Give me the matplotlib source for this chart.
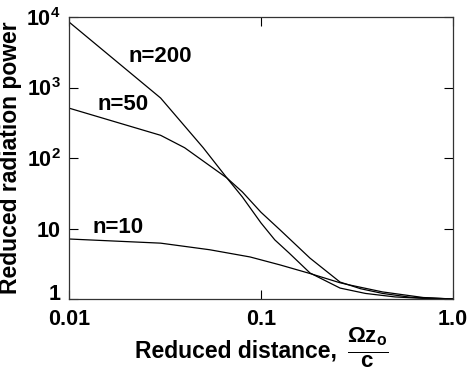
import matplotlib
matplotlib.use('Agg')
import matplotlib.pyplot as plt
from matplotlib.transforms import ScaledTranslation

plt.rcParams['font.family'] = 'Liberation Sans'
plt.rcParams['font.weight'] = 'bold'
plt.rcParams['mathtext.fontset'] = 'custom'
plt.rcParams['mathtext.rm'] = 'Liberation Sans:bold'
plt.rcParams['mathtext.it'] = 'Liberation Sans:bold'
plt.rcParams['mathtext.bf'] = 'Liberation Sans:bold'

# curves
x200 = [0.01, 0.03, 0.05, 0.0665, 0.08, 0.1, 0.118, 0.14, 0.18, 0.258, 0.35, 0.5, 0.7, 1.0]
y200 = [8500, 710, 140, 52, 28, 12, 6.9, 4.5, 2.34, 1.43, 1.2, 1.07, 1.02, 1.0]

x50 = [0.01, 0.03, 0.04, 0.054, 0.0665, 0.08, 0.1, 0.126, 0.18, 0.258, 0.33, 0.43, 0.6, 1.0]
y50 = [510, 210, 140, 78, 52, 33, 17, 9.5, 3.8, 1.74, 1.4, 1.2, 1.06, 1.0]

x10 = [0.01, 0.03, 0.054, 0.0877, 0.126, 0.18, 0.258, 0.29, 0.43, 0.7, 1.0]
y10 = [7.1, 6.2, 5.0, 3.95, 3.04, 2.3, 1.7, 1.58, 1.26, 1.05, 1.0]

xticks = [0.01, 0.1, 1.0]
xticklabels = ['0.01', '0.1', '1.0']
yticks = [1, 10, 100, 1000, 10000]
yticklabels = ['1', '10', r'$10^2$', r'$10^3$', r'$10^4$']

fig = plt.figure(figsize=(4.7, 3.74), dpi=100)
ax = fig.add_axes([0.1468, 0.2005, 0.817, 0.754])

for xs, ys in [(x200, y200), (x50, y50), (x10, y10)]:
    ax.plot(xs, ys, color='black', lw=0.9)

ax.set_xscale('log')
ax.set_yscale('log')
ax.set_xlim(0.01, 1.0)
ax.set_ylim(1, 10000)

ax.xaxis.set_minor_locator(matplotlib.ticker.NullLocator())
ax.yaxis.set_minor_locator(matplotlib.ticker.NullLocator())
ax.set_xticks(xticks)
ax.set_xticklabels(xticklabels)
ax.set_yticks(yticks)
ax.set_yticklabels(yticklabels)
ax.tick_params(direction='in', length=6.5, width=0.8, top=True, right=True,
               labelsize=15.5, pad=6)
ax.tick_params(axis='x', pad=7)
for s in ax.spines.values():
    s.set_linewidth(0.9)
    s.set_color('#333333')

# the "1" sits a little above its tick in the original
lab1 = ax.get_yticklabels()[0]
lab1.set_transform(lab1.get_transform() + ScaledTranslation(0, 5 / 72, fig.dpi_scale_trans))

ax.text(0.0203, 2710, 'n=200', fontsize=16, va='center', ha='left')
ax.text(0.014, 583, 'n=50', fontsize=16, va='center', ha='left')
ax.text(0.0133, 10.5, 'n=10', fontsize=16, va='center', ha='left')

# x label: words plus a separate fraction
fig.text(337 / 470, 1 - 351 / 374, 'Reduced distance,', fontsize=16.5,
         fontweight='bold', ha='right', va='center')
fig.text(368 / 470, 1 - 348 / 374, r'$\frac{\Omega z_o}{c}$', fontsize=23,
         ha='center', va='center')

ax.set_ylabel('Reduced radiation power', fontsize=16.5, fontweight='bold')
ax.yaxis.set_label_coords(-0.122, 0.5)

fig.savefig('out.png', dpi=100)
